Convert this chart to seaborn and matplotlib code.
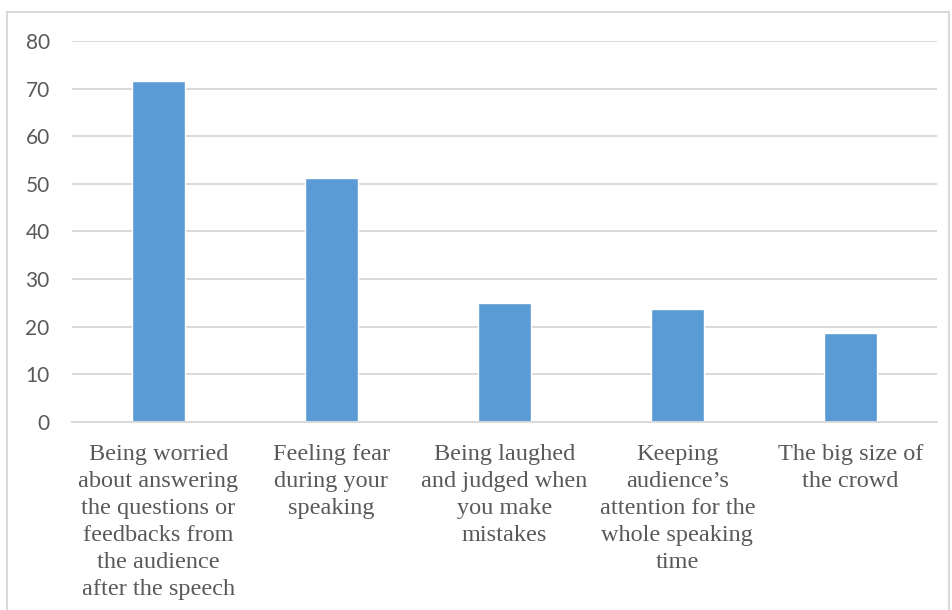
import pandas as pd
import matplotlib.pyplot as plt
import seaborn as sns
from matplotlib.patches import Rectangle

# Chart data
categories = [
    "Being worried\nabout answering\nthe questions or\nfeedbacks from\nthe audience\nafter the speech",
    "Feeling fear\nduring your\nspeaking",
    "Being laughed\nand judged when\nyou make\nmistakes",
    "Keeping\naudience\u2019s\nattention for the\nwhole speaking\ntime",
    "The big size of\nthe crowd",
]
values = [71.7, 51.3, 24.9, 23.6, 18.7]
y_ticks = [0, 10, 20, 30, 40, 50, 60, 70, 80]

df = pd.DataFrame({"reason": categories, "percent": values})

sns.set_style("white")

fig = plt.figure(figsize=(9.53, 6.10), dpi=100)
ax = fig.add_axes([0.0755, 0.3087, 0.9075, 0.6236])

sns.barplot(data=df, x="reason", y="percent", color="#5B9BD5",
            width=0.31, saturation=1, ax=ax)

ax.set_ylim(0, 80)
ax.set_yticks(y_ticks)
ax.set_xlim(-0.5, 4.5)
ax.grid(axis="y", color="#D9D9D9", linewidth=1.4)
ax.set_axisbelow(True)
for side in ["top", "right", "left"]:
    ax.spines[side].set_visible(False)
ax.spines["bottom"].set_color("#D9D9D9")
ax.spines["bottom"].set_linewidth(1.4)

ax.set_xlabel("")
ax.set_ylabel("")
ax.tick_params(axis="y", length=0, pad=16, labelsize=15, labelcolor="#595959")
ax.tick_params(axis="x", length=0, pad=16, labelsize=17.5, labelcolor="#595959")
for lbl in ax.get_yticklabels():
    lbl.set_family("Lato")
for lbl in ax.get_xticklabels():
    lbl.set_family("Liberation Serif")
    lbl.set_linespacing(1.37)

# light frame around the chart
fig.patches.append(Rectangle((7 / 953, -0.02), 942 / 953, 1 - 12 / 610 + 0.02,
                             transform=fig.transFigure, fill=False,
                             edgecolor="#D9D9D9", linewidth=1.5))

plt.savefig("out.png", dpi=100)
